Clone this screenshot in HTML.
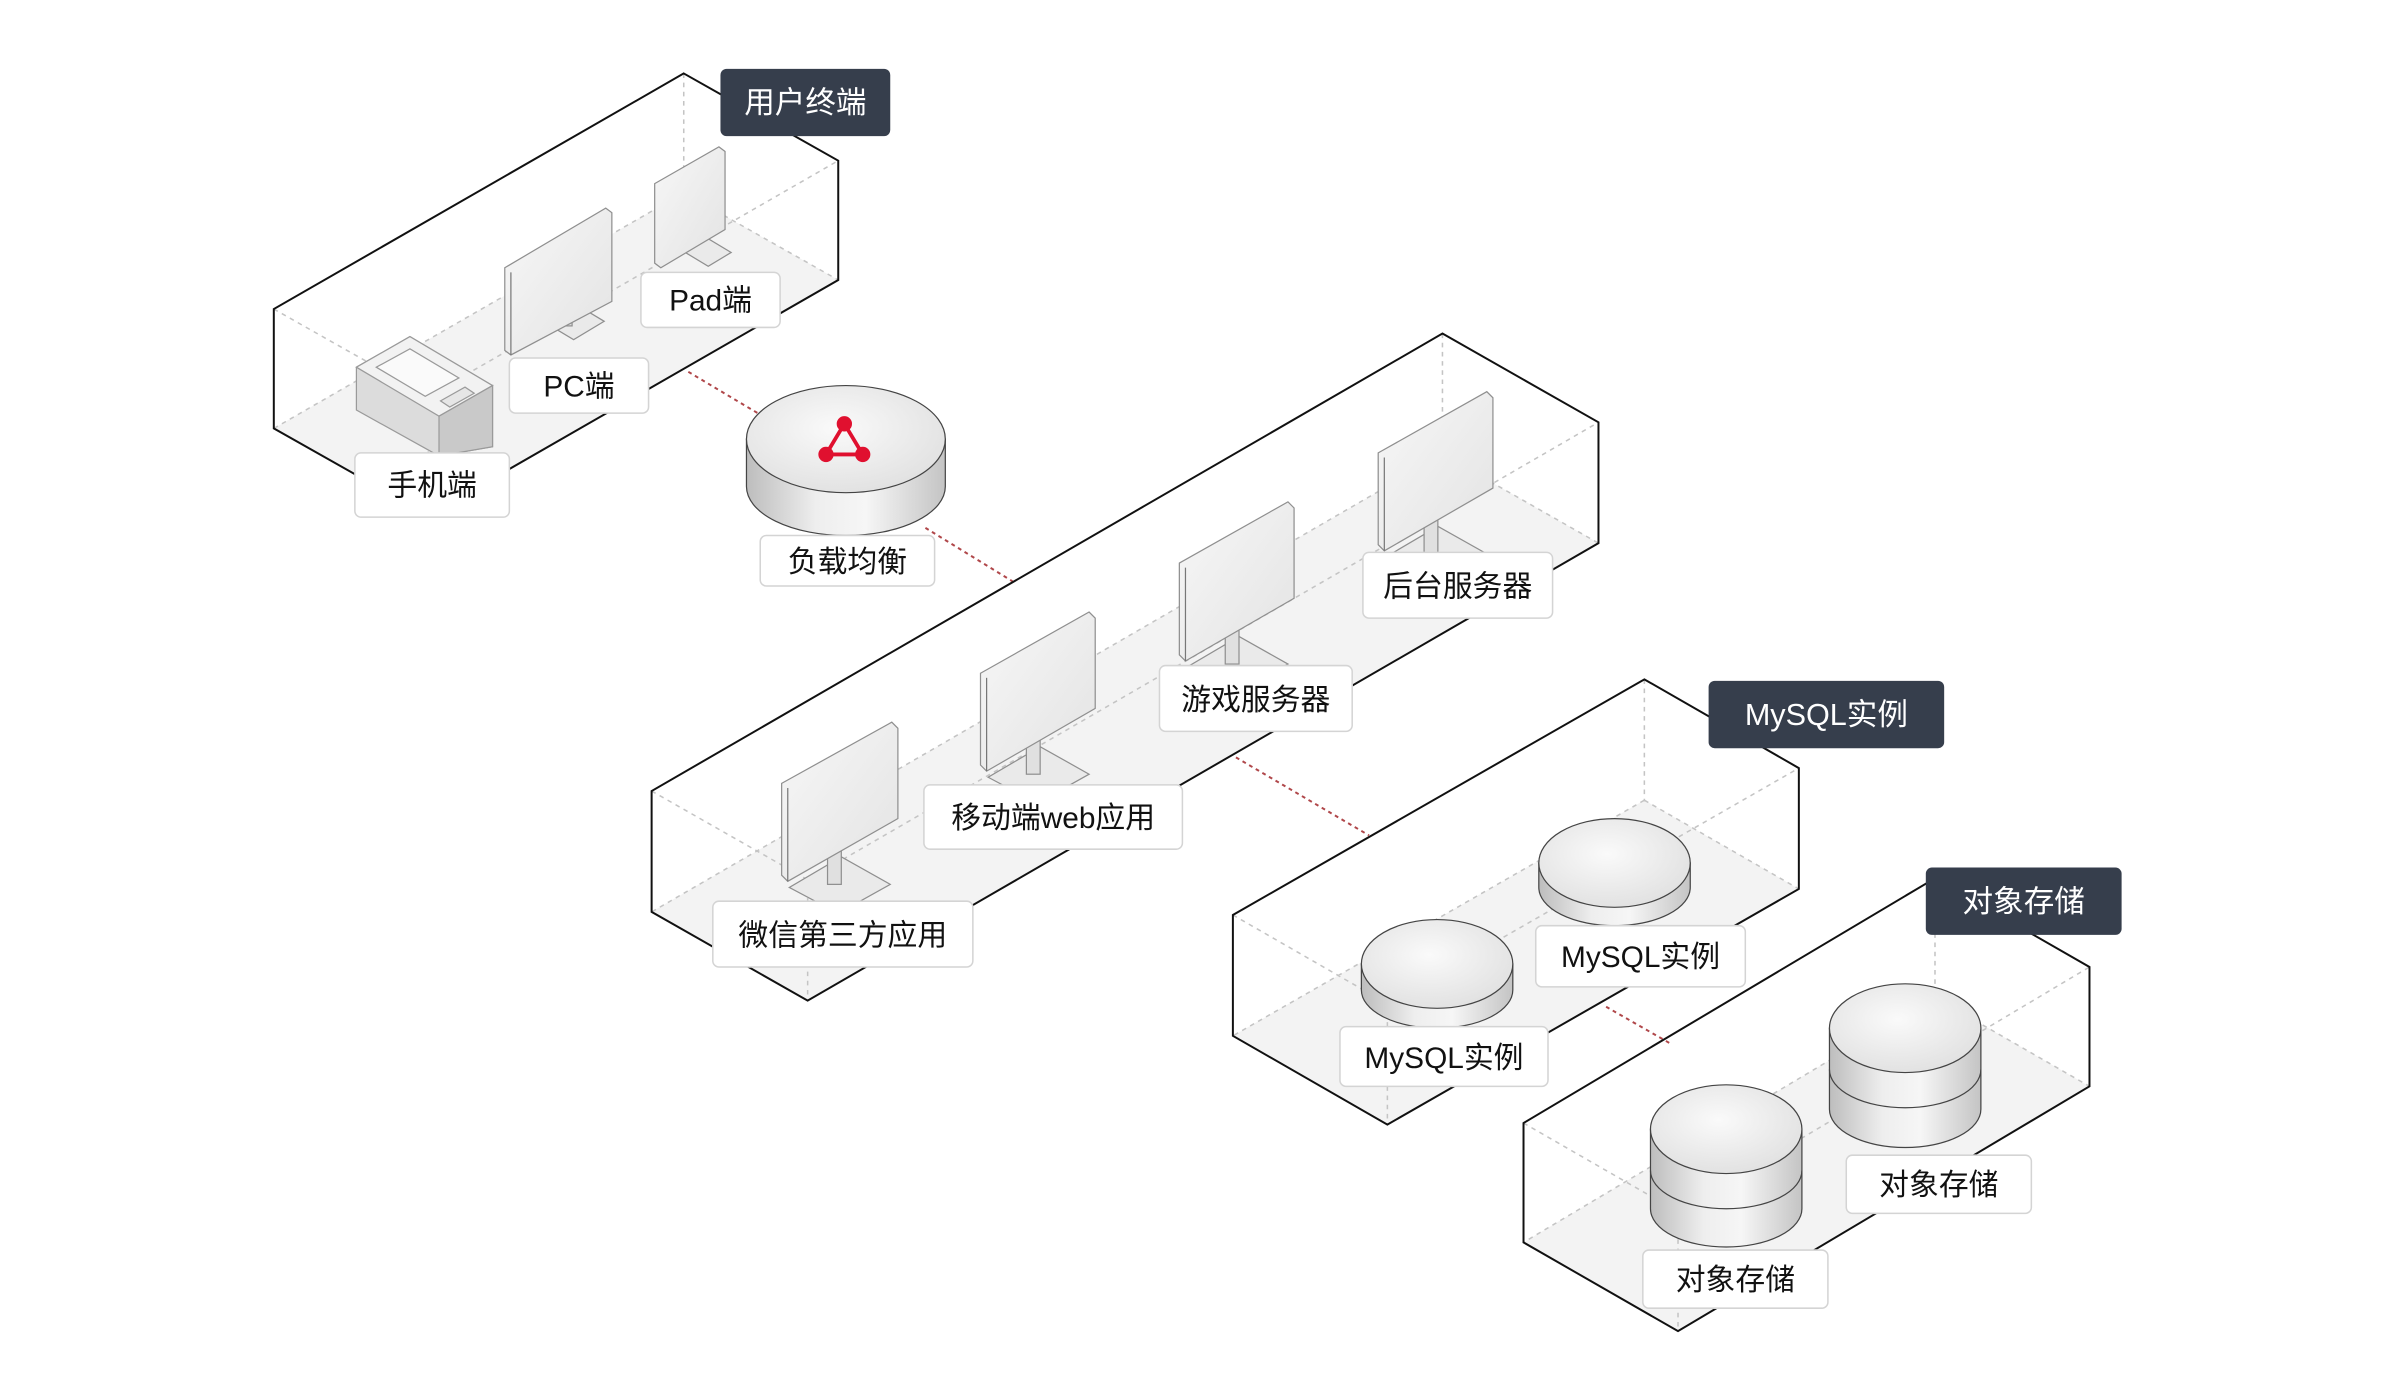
<!DOCTYPE html>
<html><head><meta charset="utf-8"><style>
html,body{margin:0;padding:0;background:#fff;}
svg{display:block;}
text{font-family:"Liberation Sans","Noto Sans CJK SC",sans-serif;}
</style></head><body>
<svg width="2400" height="1400" viewBox="0 0 1569 915" preserveAspectRatio="none" xmlns="http://www.w3.org/2000/svg">
<defs>
<linearGradient id="cyl" x1="0" x2="1" y1="0" y2="0">
<stop offset="0" stop-color="#bdbdbd"/><stop offset="0.35" stop-color="#eeeeee"/><stop offset="0.6" stop-color="#f6f6f6"/><stop offset="1" stop-color="#c4c4c4"/>
</linearGradient>
<radialGradient id="top" cx="0.45" cy="0.4" r="0.7">
<stop offset="0" stop-color="#fafafa"/><stop offset="1" stop-color="#dedede"/>
</radialGradient>
<linearGradient id="scr" x1="0" x2="1" y1="0" y2="1">
<stop offset="0" stop-color="#f7f7f7"/><stop offset="1" stop-color="#e3e3e3"/>
</linearGradient>
</defs>

<g fill="#f3f3f3">
<polygon points="179,280 447,126 548,183 280,337"/>
<polygon points="426,596 943,297 1045,355 528,654"/>
<polygon points="806,677 1075,523 1176,581 907,735"/>
<polygon points="996,812 1265,652 1366,710 1097,870"/>
</g>
<g stroke="#c4c4c4" stroke-width="1" stroke-dasharray="3,3" fill="none">
<path d="M447,48V126M447,126L179,280M447,126L548,183M179,202L280,259L548,105M280,259V337"/>
<path d="M943,218V297M943,297L426,596M943,297L1045,355M426,517L528,575L1045,276M528,575V654"/>
<path d="M1075,444V523M1075,523L806,677M1075,523L1176,581M806,598L907,656L1176,502M907,656V735"/>
<path d="M1265,574V652M1265,652L996,812M1265,652L1366,710M996,734L1097,792L1366,632M1097,792V870"/>
</g>
<g stroke="#b0474a" stroke-width="1.3" stroke-dasharray="2.5,2.5" fill="none">
<path d="M450,243L497,271M605,345L662,380M808,495L895,546M1050,658L1092,682"/>
</g>
<g stroke="#111" stroke-width="1.3" fill="none">
<polygon points="447,48 548,105 548,183 280,337 179,280 179,202"/>
<polygon points="943,218 1045,276 1045,355 528,654 426,596 426,517"/>
<polygon points="1075,444 1176,502 1176,581 907,735 806,677 806,598"/>
<polygon points="1265,574 1366,632 1366,710 1097,870 996,812 996,734"/>
</g>

<g stroke="#9a9a9a" stroke-width="0.8">
<polygon points="233,240 268,220 322,252 322,292 287,298 233,268" fill="#dcdcdc"/>
<polygon points="233,240 268,220 322,252 287,272" fill="#f2f2f2"/>
<polygon points="287,272 322,252 322,292 287,298" fill="#c9c9c9"/>
<polygon points="246,240 268,228 300,247 278,259" fill="#fafafa"/>
<polygon points="288,262 304,253 310,257 294,266" fill="#e6e6e6"/>
</g>

<g stroke="#8f8f8f" stroke-width="0.8">
<g><polygon points="355,210 375,222 395,210 375,198" fill="#eaeaea"/><rect x="366" y="195" width="8" height="18" fill="#e0e0e0"/>
<polygon points="330,175 396,136 400,139 400,197 334,232 330,229" fill="url(#scr)"/><path d="M334,178V232" stroke="#777"/></g>
<g><polygon points="448,165 463,174 478,165 463,156" fill="#eaeaea"/>
<polygon points="428,120 470,96 474,99 474,150 432,175 428,172" fill="url(#scr)"/></g>
<g><polygon points="516,580 548,597 582,578 550,560" fill="#eaeaea"/><rect x="541" y="548" width="9" height="30" fill="#e0e0e0"/>
<polygon points="511,512 583,472 587,476 587,535 515,576 511,572" fill="url(#scr)"/><path d="M515,515V576" stroke="#777"/></g>
<g><polygon points="646,508 678,525 712,506 680,488" fill="#eaeaea"/><rect x="671" y="476" width="9" height="30" fill="#e0e0e0"/>
<polygon points="641,440 712,400 716,404 716,463 645,504 641,500" fill="url(#scr)"/><path d="M645,443V504" stroke="#777"/></g>
<g><polygon points="776,436 808,453 842,434 810,416" fill="#eaeaea"/><rect x="801" y="404" width="9" height="30" fill="#e0e0e0"/>
<polygon points="771,368 842,328 846,332 846,391 775,432 771,428" fill="url(#scr)"/><path d="M775,371V432" stroke="#777"/></g>
<g><polygon points="906,364 938,381 972,362 940,344" fill="#eaeaea"/><rect x="931" y="332" width="9" height="30" fill="#e0e0e0"/>
<polygon points="901,296 972,256 976,260 976,319 905,360 901,356" fill="url(#scr)"/><path d="M905,299V360" stroke="#777"/></g>
</g>

<g stroke="#444" stroke-width="0.8">
<path d="M488,287V318A65,32 0 0 0 618,318V287Z" fill="url(#cyl)"/>
<ellipse cx="553" cy="287" rx="65" ry="35" fill="url(#top)"/>
<path d="M890,630V647A49.5,25 0 0 0 989,647V630Z" fill="url(#cyl)"/>
<ellipse cx="939.5" cy="630" rx="49.5" ry="29" fill="url(#top)"/>
<path d="M1006,564V580A49.5,25 0 0 0 1105,580V564Z" fill="url(#cyl)"/>
<ellipse cx="1055.5" cy="564" rx="49.5" ry="29" fill="url(#top)"/>
<path d="M1079,738V790A49.5,25 0 0 0 1178,790V738Z" fill="url(#cyl)"/>
<path d="M1079,765A49.5,25 0 0 0 1178,765" fill="none"/>
<ellipse cx="1128.5" cy="738" rx="49.5" ry="29" fill="url(#top)"/>
<path d="M1196,672V725A49.5,25 0 0 0 1295,725V672Z" fill="url(#cyl)"/>
<path d="M1196,699A49.5,25 0 0 0 1295,699" fill="none"/>
<ellipse cx="1245.5" cy="672" rx="49.5" ry="29" fill="url(#top)"/>
</g>
<g fill="#e0102f" stroke="#e0102f" stroke-width="2.5">
<path d="M552,277L540,297H564Z" fill="none"/>
<circle cx="552" cy="277" r="5" stroke="none"/><circle cx="540" cy="297" r="5" stroke="none"/><circle cx="564" cy="297" r="5" stroke="none"/>
</g>

<g font-size="19.5" fill="#111" text-anchor="middle">
<g fill="#fff" stroke="#d4d4d4" stroke-width="1">
<rect x="419" y="178" width="91" height="36" rx="4"/>
<rect x="333" y="234" width="91" height="36" rx="4"/>
<rect x="232" y="296" width="101" height="42" rx="4"/>
<rect x="497" y="350" width="114" height="33" rx="4"/>
<rect x="891" y="361" width="124" height="43" rx="4"/>
<rect x="758" y="435" width="126" height="43" rx="4"/>
<rect x="604" y="513" width="169" height="42" rx="4"/>
<rect x="466" y="589" width="170" height="43" rx="4"/>
<rect x="1004" y="605" width="137" height="40" rx="4"/>
<rect x="876" y="671" width="136" height="39" rx="4"/>
<rect x="1207" y="755" width="121" height="38" rx="4"/>
<rect x="1074" y="817" width="121" height="38" rx="4"/>
</g>
<text x="464.5" y="203">Pad端</text>
<text x="378.5" y="259">PC端</text>
<text x="282.5" y="324">手机端</text>
<text x="554" y="374">负载均衡</text>
<text x="953" y="390">后台服务器</text>
<text x="821" y="464">游戏服务器</text>
<text x="688.5" y="541">移动端web应用</text>
<text x="551" y="618">微信第三方应用</text>
<text x="1072.5" y="632">MySQL实例</text>
<text x="944" y="698">MySQL实例</text>
<text x="1267.5" y="781">对象存储</text>
<text x="1134.5" y="843">对象存储</text>
</g>

<g fill="#363e4c">
<rect x="471" y="45" width="111" height="44" rx="4"/>
<rect x="1117" y="445" width="154" height="44" rx="4"/>
<rect x="1259" y="567" width="128" height="44" rx="4"/>
</g>
<g font-size="20" fill="#fff" text-anchor="middle">
<text x="526.5" y="74">用户终端</text>
<text x="1194" y="474">MySQL实例</text>
<text x="1323" y="596">对象存储</text>
</g>
</svg>
</body></html>
